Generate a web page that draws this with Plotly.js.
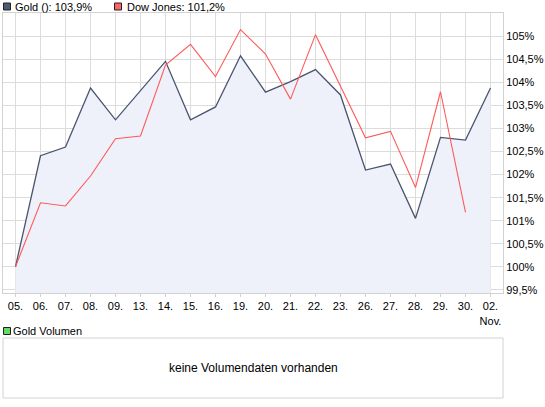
<!DOCTYPE html>
<html>
<head>
<meta charset="utf-8">
<script src="https://cdn.plot.ly/plotly-3.0.1.min.js"></script>
<style>
  html, body { margin: 0; padding: 0; background: #ffffff; }
  #chart { width: 545px; height: 407px; }
</style>
</head>
<body>
<div id="chart"></div>
<script>
// ---- data ----
const categories = ['05.', '06.', '07.', '08.', '09.', '13.', '14.', '15.', '16.', '19.',
                    '20.', '21.', '22.', '23.', '26.', '27.', '28.', '29.', '30.', '02.'];
const tickLabels = ['05.', '06.', '07.', '08.', '09.', '13.', '14.', '15.', '16.', '19.',
                    '20.', '21.', '22.', '23.', '26.', '27.', '28.', '29.', '30.', '02.<br>Nov.'];
const goldValues = [100.00, 102.41, 102.60, 103.88, 103.19, 103.83, 104.46, 103.19, 103.47, 104.58,
                    103.79, 104.02, 104.28, 103.73, 102.10, 102.23, 101.05, 102.81, 102.75, 103.88];
const dowValues  = [100.00, 101.39, 101.32, 101.97, 102.78, 102.84, 104.38, 104.83, 104.13, 105.15,
                    104.62, 103.64, 105.04, 103.92, 102.80, 102.94, 101.72, 103.80, 101.18];
const yTickVals  = [99.5, 100, 100.5, 101, 101.5, 102, 102.5, 103, 103.5, 104, 104.5, 105];
const yTickText  = ['99,5%', '100%', '100,5%', '101%', '101,5%', '102%', '102,5%', '103%', '103,5%', '104%', '104,5%', '105%'];
const goldName = 'Gold ()';
const dowName = 'Dow Jones';
const volumeTitle = 'Gold Volumen';
const volumeMessage = 'keine Volumendaten vorhanden';

// ---- helpers ----
const W = 545, H = 407;
const M = {l: 3, r: 42, t: 13, b: 9};
const plotW = W - M.l - M.r, plotH = H - M.t - M.b;
const px = x => (x - M.l) / plotW;          // pixel x -> paper
const py = y => (H - M.b - y) / plotH;      // pixel y -> paper
const fmt = v => v.toFixed(1).replace('.', ',') + '%';

const font = {family: 'Arial, "Liberation Sans", sans-serif', size: 11, color: '#000000'};
const gridColor = '#dcdcdc';
const borderColor = '#d2d2d2';

const goldTrace = {
  x: categories, y: goldValues, type: 'scatter', mode: 'lines',
  line: {color: '#4a546e', width: 1.3},
  fill: 'tozeroy', fillcolor: 'rgb(238,241,250)',
  hoverinfo: 'skip', showlegend: false
};
const dowTrace = {
  x: categories.slice(0, dowValues.length), y: dowValues, type: 'scatter', mode: 'lines',
  line: {color: '#ff5a5a', width: 1.1},
  hoverinfo: 'skip', showlegend: false
};

const mainBottom = 293, boxTop = 338, boxBottom = 398;

const layout = {
  width: W, height: H,
  margin: M,
  paper_bgcolor: '#ffffff', plot_bgcolor: '#ffffff',
  font: font,
  showlegend: false,
  xaxis: {
    type: 'category', categoryorder: 'array', categoryarray: categories,
    range: [-0.5, categories.length - 0.5],
    tickvals: categories, ticktext: tickLabels,
    showgrid: true, gridcolor: gridColor, gridwidth: 1,
    showline: true, linecolor: borderColor, linewidth: 1, mirror: true,
    ticks: 'outside', ticklen: 3, tickcolor: borderColor, tickwidth: 1,
    tickfont: font, zeroline: false, fixedrange: true, tickangle: 0
  },
  yaxis: {
    domain: [py(mainBottom), 1],
    side: 'right', range: [99.43, 105.51],
    tickvals: yTickVals, ticktext: yTickText,
    showgrid: true, gridcolor: gridColor, gridwidth: 1,
    showline: true, linecolor: borderColor, linewidth: 1, mirror: true,
    ticks: '', tickfont: font, zeroline: false, fixedrange: true
  },
  shapes: [
    // lower (volume) panel box
    {type: 'rect', xref: 'paper', yref: 'paper', x0: 0, x1: 1, y0: py(boxBottom), y1: py(boxTop),
     line: {color: borderColor, width: 1}, fillcolor: 'rgba(0,0,0,0)'},
    // legend squares
    {type: 'rect', xref: 'paper', yref: 'paper', x0: px(3.5), x1: px(10.5), y0: py(10), y1: py(3),
     line: {color: '#222222', width: 1}, fillcolor: '#4f5a75'},
    {type: 'rect', xref: 'paper', yref: 'paper', x0: px(114.5), x1: px(121.5), y0: py(10), y1: py(3),
     line: {color: '#222222', width: 1}, fillcolor: '#ff6464'},
    {type: 'rect', xref: 'paper', yref: 'paper', x0: px(3.5), x1: px(10.5), y0: py(334.5), y1: py(327.5),
     line: {color: '#222222', width: 1}, fillcolor: '#66d866'}
  ],
  annotations: [
    {xref: 'paper', yref: 'paper', x: px(13), y: py(7), xanchor: 'left', yanchor: 'middle',
     text: goldName + ': ' + fmt(goldValues[goldValues.length - 1]), showarrow: false, font: font},
    {xref: 'paper', yref: 'paper', x: px(124.5), y: py(7), xanchor: 'left', yanchor: 'middle',
     text: dowName + ': ' + fmt(dowValues[dowValues.length - 1]), showarrow: false, font: font},
    {xref: 'paper', yref: 'paper', x: px(11), y: py(331), xanchor: 'left', yanchor: 'middle',
     text: volumeTitle, showarrow: false, font: font},
    {xref: 'paper', yref: 'paper', x: 0.5, y: py((boxTop + boxBottom) / 2), xanchor: 'center', yanchor: 'middle',
     text: volumeMessage, showarrow: false, font: Object.assign({}, font, {size: 12})}
  ]
};

Plotly.newPlot('chart', [goldTrace, dowTrace], layout, {displayModeBar: false, staticPlot: true});
</script>
</body>
</html>
